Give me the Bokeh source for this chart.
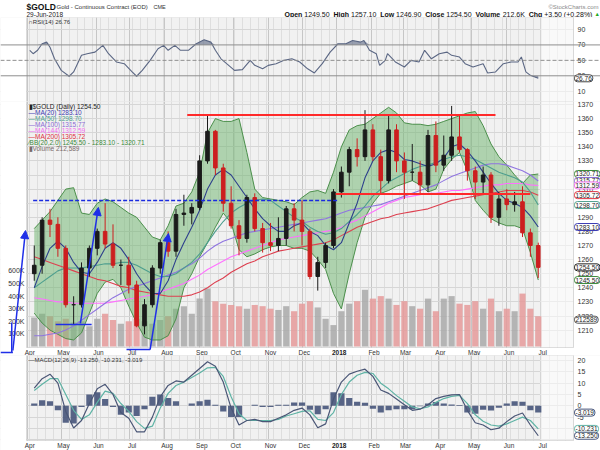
import numpy as np
import pandas as pd
from bokeh.plotting import figure
from bokeh.layouts import column
from bokeh.models import (Range1d, FixedTicker, Label, Arrow, NormalHead,
                          BoxAnnotation, ColumnDataSource, Span)
from bokeh.core.properties import value
from bokeh.embed import file_html
from bokeh.resources import INLINE

# ---------------- data (weekly) ----------------
week_end = pd.date_range("2017-04-07", "2018-06-29", freq="W-FRI")

open_ = [1250,1256,1288,1285,1268,1228,1228,1254,1268,1280,1271,1256,1256,1242,1213,1228,1254,1272,1266,1292,
         1293,1297,1330,1351,1325,1300,1284,1275,1304,1282,1272,1270,1275,1296,1288,1280,1248,1258,1270,1308,
         1322,1338,1333,1352,1333,1316,1352,1330,1322,1322,1313,1348,1327,1334,1347,1338,1323,1315,1320,1290,
         1303,1299,1301,1279,1270]
high = [1270,1290,1296,1290,1270,1234,1258,1270,1282,1300,1285,1260,1262,1245,1232,1256,1274,1280,1296,1306,
        1300,1334,1362,1352,1328,1312,1288,1306,1307,1286,1286,1290,1298,1300,1302,1282,1262,1272,1310,1326,
        1340,1346,1366,1356,1338,1362,1356,1336,1342,1330,1352,1358,1348,1369,1362,1339,1326,1326,1322,1308,
        1310,1308,1312,1282,1272]
low = [1245,1250,1276,1262,1226,1214,1226,1248,1263,1268,1254,1242,1236,1212,1207,1226,1250,1262,1262,1284,
       1285,1295,1328,1320,1294,1282,1263,1272,1280,1265,1266,1266,1270,1280,1270,1246,1238,1254,1268,1304,
       1312,1326,1330,1330,1306,1314,1322,1303,1316,1306,1308,1322,1323,1330,1336,1316,1303,1306,1286,1284,
       1295,1294,1276,1262,1247]
close = [1256,1288,1285,1268,1228,1228,1254,1268,1280,1271,1256,1256,1242,1213,1228,1254,1272,1266,1292,1293,
         1297,1330,1351,1325,1300,1284,1275,1304,1282,1272,1270,1275,1296,1288,1280,1248,1258,1270,1308,1322,
         1338,1333,1352,1333,1316,1352,1330,1322,1322,1313,1348,1327,1334,1347,1338,1323,1315,1320,1290,1303,
         1299,1301,1279,1270,1254.5]
volume_k = [230,260,240,200,220,190,200,160,220,260,210,180,200,220,200,180,210,240,300,320,
            260,380,460,360,340,330,320,300,330,320,300,290,320,280,340,360,310,220,170,280,
            340,360,450,380,400,380,330,360,320,300,380,280,380,400,340,330,360,300,380,280,
            300,280,420,300,240]

ma20 = [1240,1255,1268,1273,1268,1258,1251,1250,1258,1268,1272,1268,1260,1250,1242,1236,1236,1245,1260,1272,
        1283,1295,1310,1320,1324,1320,1312,1304,1296,1289,1284,1280,1280,1284,1286,1280,1277,1270,1267,1272,
        1286,1300,1318,1330,1336,1338,1336,1331,1330,1328,1326,1328,1332,1340,1342,1337,1330,1322,1314,1307,
        1302,1300,1297,1291,1283.1]
ma50 = [1240,1244,1248,1252,1254,1254,1254,1255,1256,1257,1257,1258,1258,1256,1253,1250,1248,1248,1250,1254,
        1258,1264,1272,1280,1287,1293,1297,1300,1302,1303,1302,1298,1294,1290,1287,1283,1280,1278,1279,1282,
        1287,1292,1298,1305,1310,1315,1318,1321,1324,1326,1327,1329,1331,1333,1334,1333,1331,1328,1325,1322,
        1320,1318,1315,1308,1298.7]
ma100 = [1206,1206,1207,1208,1210,1213,1217,1221,1225,1229,1233,1236,1239,1241,1243,1245,1247,1249,1251,1254,
         1257,1261,1266,1270,1273,1275,1277,1279,1280,1281,1282,1283,1284,1285,1286,1287,1288,1289,1291,1293,
         1295,1296,1297,1298,1299,1301,1303,1305,1307,1309,1311,1313,1316,1319,1321,1323,1325,1327,1328,1328,
         1327,1325,1323,1320,1315.77]
ma144 = [1233,1232,1231,1230,1230,1229,1229,1229,1229,1229,1230,1231,1232,1233,1234,1235,1237,1239,1241,1243,
         1246,1249,1253,1256,1259,1262,1264,1266,1268,1270,1272,1274,1275,1276,1277,1278,1279,1280,1281,1283,
         1286,1288,1291,1294,1297,1300,1302,1304,1305,1306,1307,1307,1308,1309,1309,1310,1311,1312,1313,1313,
         1314,1314,1314,1313,1312.59]
ma200 = [1262,1260,1258,1256,1254,1252,1250,1248,1246,1245,1243,1241,1240,1238,1237,1236,1235,1234,1234,1234,
         1235,1237,1240,1244,1247,1251,1254,1257,1259,1262,1264,1266,1267,1268,1269,1270,1271,1272,1274,1277,
         1280,1283,1285,1287,1289,1290,1292,1293,1294,1295,1296,1298,1300,1302,1303,1304,1305,1306,1307,1308,
         1309,1309,1309,1308,1305.72]
bb_upper = [1282,1288,1294,1302,1310,1311,1293,1292,1300,1303,1301,1297,1293,1290,1283,1276,1274,1284,1298,1300,
            1308,1322,1350,1360,1358,1358,1360,1336,1310,1304,1303,1302,1301,1299,1304,1308,1309,1307,1322,1340,
            1352,1355,1356,1360,1364,1368,1364,1357,1356,1356,1355,1356,1358,1360,1362,1364,1365,1355,1342,1333,
            1327,1320,1314,1320,1320.71]
bb_lower = [1222,1215,1210,1207,1204,1203,1208,1222,1236,1244,1246,1240,1227,1215,1205,1203,1203,1206,1218,1240,
            1250,1262,1272,1283,1293,1286,1267,1262,1264,1267,1269,1270,1270,1268,1268,1266,1260,1253,1236,1225,
            1250,1272,1290,1300,1307,1309,1312,1314,1316,1313,1308,1310,1324,1331,1336,1323,1302,1295,1289,1286,
            1284,1284,1282,1265,1245.5]
macd_line = [7.8,12,14,10,-2.5,-9.8,-6.5,1,7.5,9.5,5,-3,-5.5,-11.5,-11.5,-5,4,9,11,10.5,
             13.5,16.5,19.5,17.5,10.5,-1,-8.5,-6.5,-6,-7,-7,-5.5,-4,-2,-1,-4,-9.7,-8,3,10.5,
             14,15.3,16.2,13,7,5.5,3,0.5,-2,-1.5,0.5,3.2,4.2,4.8,5,-2,-7.5,-8.5,-10.6,-9.9,
             -7,-4.5,-3.2,-8.5,-13.25]
macd_signal = [6.8,9.5,12,12,5,-2,-6,-4,1.5,6.5,5.5,1,-2.5,-7,-10,-9,-1,5.5,9,10.5,
               12.5,14.5,16.8,17,13,4,-3.5,-6.5,-6.5,-6.5,-6.5,-6,-4.5,-3.5,-2.5,-2.2,-6,-6.5,-3,5,
               10.5,13.5,14.8,14.3,10,7.5,4.5,2,-0.5,-1.3,-0.5,1.5,3.2,4.2,4.6,1,-4,-6.8,-8.5,-9,
               -8,-6.5,-5,-6.5,-10.231]

rsi_dates = ["2017-04-03","2017-04-06","2017-04-10","2017-04-14","2017-04-18","2017-04-21","2017-04-25",
             "2017-05-01","2017-05-08","2017-05-12","2017-05-19","2017-05-24","2017-05-31","2017-06-07",
             "2017-06-12","2017-06-19","2017-06-26","2017-07-03","2017-07-07","2017-07-12","2017-07-19",
             "2017-07-26","2017-07-31","2017-08-04","2017-08-10","2017-08-15","2017-08-22","2017-08-29",
             "2017-09-05","2017-09-11","2017-09-15","2017-09-20","2017-09-25","2017-10-02","2017-10-09",
             "2017-10-16","2017-10-20","2017-10-27","2017-11-01","2017-11-08","2017-11-15","2017-11-22",
             "2017-11-29","2017-12-06","2017-12-12","2017-12-19","2017-12-26","2018-01-02","2018-01-09",
             "2018-01-15","2018-01-22","2018-01-25","2018-01-30","2018-02-05","2018-02-08","2018-02-13",
             "2018-02-15","2018-02-22","2018-03-02","2018-03-08","2018-03-15","2018-03-20","2018-03-26",
             "2018-04-02","2018-04-09","2018-04-13","2018-04-20","2018-04-25","2018-05-02","2018-05-11",
             "2018-05-15","2018-05-22","2018-05-29","2018-06-05","2018-06-11","2018-06-14","2018-06-18",
             "2018-06-22","2018-06-29"]
rsi_vals = [63,58.6,63,71.5,73.6,67,52,37,29.4,35,56.5,58.6,60.7,69.4,58.6,47.9,45.7,35,29.4,37,50,
            65,69.4,63,69.4,63,63,71.5,76.7,73.6,63,52,45.7,37,38,50,43.5,39,43.5,45.7,50,52,47.9,39,
            33.7,45.7,60.7,71.5,71.5,75.8,73.6,75.8,63,58.6,43.5,50,58.6,47.9,41.4,50,47.9,63,52,58.6,
            60.7,56.5,54.3,45.7,41.4,45.7,33.7,35,45.7,47.9,47.9,54.3,35,30.6,26.76]

month_starts = pd.date_range("2017-04-01", "2018-07-01", freq="MS")
month_labels = ["Apr","May","Jun","Jul","Aug","Sep","Oct","Nov","Dec","2018","Feb","Mar","Apr","May","Jun","Jul"]
price_ticks = [1210,1220,1230,1240,1250,1260,1270,1280,1290,1300,1310,1320,1330,1340,1350,1360,1370]
vol_ticks = [100,200,300,400,500,600]
rsi_ticks = [10,30,50,70,90]
macd_ticks = [-5,0,5,10,15,20]

# hand-drawn annotations on the reference (date, price)
resistance = (["2017-08-21","2018-05-22"], 1362.5)
support = (["2017-12-31","2018-06-22"], 1306.5)
breakout = (["2017-04-06","2018-01-03"], 1302)
arrows = [(("2017-03-19",1195.5),("2017-03-30 05:00",1280.6)),
          (("2017-05-18",1214.7),("2017-06-03",1297)),
          (("2017-07-19",1196.2),("2017-08-04 07:00",1278.5))]
plain_lines = [(("2017-04-26",1214),("2017-05-28",1214)),
               (("2017-06-28",1196.2),("2017-07-19",1196.2)),
               (("2017-03-18",1215.4),("2017-03-18",1194.1)),
               (("2017-03-08",1194.1),("2017-03-19",1194.1))]

# ---------------- layout helpers (pixel geometry of the panels) ----------------
DAY = 86400000.0
FONT = "Liberation Sans"
PXD = 1.125                      # pixels per calendar day
BASE = pd.Timestamp("2017-04-01")


def ms(d):
    return pd.Timestamp(d).value / 1e6


def px_ms(px):
    return ms(BASE) + (px - 27) / PXD * DAY


xr = Range1d(px_ms(0), px_ms(600))
month_ms = [ms(d) for d in month_starts]
week_grid = [ms(d) for d in pd.date_range("2017-04-03", "2018-07-30", freq="W-MON")]
LEFT, RIGHT = px_ms(26), px_ms(573)


def make_fig(h, yr, panel_bottom=None):
    p = figure(width=600, height=h, x_range=xr, y_range=yr, x_axis_location=None, y_axis_location=None,
               min_border=0, output_backend="svg", toolbar_location=None)
    p.background_fill_color = "#f1f1f1"
    p.border_fill_color = "white"
    p.outline_line_color = None
    p.xgrid.ticker = FixedTicker(ticks=month_ms, minor_ticks=week_grid)
    p.xgrid.grid_line_color = "#c6c6c6"
    p.xgrid.minor_grid_line_color = "#dedede"
    p.ygrid.grid_line_color = "#d6d6d6"
    # white margins (axis areas)
    p.add_layout(BoxAnnotation(right=LEFT, fill_color="white", fill_alpha=1, line_color=None, level="underlay"))
    p.add_layout(BoxAnnotation(left=RIGHT, fill_color="white", fill_alpha=1, line_color=None, level="underlay"))
    if panel_bottom is not None:
        p.add_layout(BoxAnnotation(top=panel_bottom, fill_color="white", fill_alpha=1, line_color=None,
                                   level="underlay"))
    # future area lighter
    p.add_layout(BoxAnnotation(left=ms("2018-07-01"), right=RIGHT, bottom=panel_bottom, fill_color="white",
                               fill_alpha=0.55, line_color=None, level="underlay"))
    # panel frame
    p.add_layout(BoxAnnotation(left=LEFT, right=RIGHT, bottom=panel_bottom, fill_alpha=0,
                               line_color="#9a9a9a", line_width=1))
    return p


def ytext(p, ticks, labels, x=577, align="left", rname="default", size="7px"):
    p.text(x=[px_ms(x)] * len(ticks), y=ticks, text=labels, text_font=value(FONT), text_font_size=size,
           text_color="#333333", text_align=align, text_baseline="middle", y_range_name=rname)


def month_text(p, y):
    xs = [m + 2 * DAY for m in month_ms]
    normal = [i for i, l in enumerate(month_labels) if l != "2018"]
    bold = [i for i, l in enumerate(month_labels) if l == "2018"]
    p.text(x=[xs[i] for i in normal], y=[y] * len(normal), text=[month_labels[i] for i in normal],
           text_font=value(FONT), text_font_size="6.5px", text_color="#333333", text_align="center",
           text_baseline="middle")
    p.text(x=[xs[i] for i in bold], y=[y] * len(bold), text=[month_labels[i] for i in bold],
           text_font=value(FONT), text_font_size="6.5px", text_color="#222222", text_align="center",
           text_baseline="middle", text_font_style="bold")


def vbox(p, y, text, color, rname="default"):
    p.add_layout(Label(x=574, y=y, x_units="screen", y_units="data", y_range_name=rname, text=text,
                       text_font=FONT, text_font_size="6.5px", text_color="#222222",
                       text_baseline="middle", text_align="left", border_line_color=color,
                       border_line_width=1, background_fill_color="white", border_radius=3, padding=1))


def txt(p, x, y, text, size="6.5px", color="#222222", bold=False, align="left"):
    p.add_layout(Label(x=x, y=y, x_units="screen", y_units="screen", text=text, text_font=FONT,
                       text_font_size=size, text_color=color, text_baseline="middle", text_align=align,
                       text_font_style="bold" if bold else "normal"))


# ---------------- header ----------------
ph = figure(width=600, height=17, x_range=Range1d(0, 600), y_range=Range1d(0, 17), x_axis_location=None,
            y_axis_location=None, min_border=0, output_backend="svg", toolbar_location=None)
ph.outline_line_color = None
ph.grid.visible = False
ph.background_fill_color = "white"
txt(ph, 26, 11, "$GOLD", size="8.5px", color="#111111", bold=True)
txt(ph, 56, 11, "Gold - Continuous Contract (EOD)", size="6px", color="#333333")
txt(ph, 153, 11, "CME", size="5.5px", color="#333333")
txt(ph, 26, 3.5, "29-Jun-2018", size="6.5px", color="#222222")
txt(ph, 598, 11, "\u00a9StockCharts.com", size="6px", color="#8a8a8a", align="right")
hdr = [("Open", True, 284), ("1249.50", False, 303.8), ("High", True, 333), ("1257.10", False, 350.5),
       ("Low", True, 379.7), ("1246.90", False, 395.6), ("Close", True, 424.8), ("1254.50", False, 445.8),
       ("Volume", True, 475), ("212.6K", False, 502.2), ("Chg", True, 528.2), ("+3.50 (+0.28%)", False, 543.7)]
for t, b, x in hdr:
    txt(ph, x, 3.5, t, size="7px", color="#111111", bold=b)
txt(ph, 594, 3.5, "\u25b2", size="5.5px", color="#22aa22")

# ---------------- RSI panel (canvas y 17..101) ----------------
p1 = make_fig(84, Range1d(-3.3, 105.5))
p1.ygrid.ticker = FixedTicker(ticks=[10, 90])
for lv, dash in [(70, "solid"), (30, "solid"), (50, "4 2")]:
    p1.add_layout(Span(location=lv, dimension="width", line_color="#8f8f8f", line_width=1, line_dash=dash))
rsi_t = pd.to_datetime(rsi_dates)
rsi_a = np.array(rsi_vals)
p1.varea(x=rsi_t, y1=70, y2=np.maximum(rsi_a, 70), fill_color="#5b6784", fill_alpha=0.6)
p1.varea(x=rsi_t, y1=np.minimum(rsi_a, 30), y2=30, fill_color="#5b6784", fill_alpha=0.6)
p1.line(rsi_t, rsi_a, line_color="#5b6784", line_width=1.1)
ytext(p1, rsi_ticks, [str(t) for t in rsi_ticks])
vbox(p1, rsi_vals[-1], "26.76", "#444444")
txt(p1, 28, 80, "\u2229RSI(14) 26.76", size="6px", color="#333333")

# ---------------- main price panel (canvas y 101..355) ----------------
def py(canvas_y):
    return 1370 - (canvas_y - 104) / 1.41


p2 = make_fig(254, Range1d(py(355), py(101)), panel_bottom=py(347))
p2.ygrid.ticker = FixedTicker(ticks=price_ticks)
p2.extra_y_ranges = {"vol": Range1d(-71.4, 1944.4)}

o = np.array(open_, float); c = np.array(close, float)
up = c >= o
src = ColumnDataSource(dict(t=week_end, o=o, h=high, l=low, c=c,
                            top=np.maximum(o, c), bot=np.minimum(o, c),
                            col=["#1b1b1b" if u else "#cc1f1f" for u in up],
                            vcol=["#a9a9a9" if u else "#e59a9a" for u in up],
                            v=volume_k))
p2.vbar(x="t", width=5.5 * DAY, top="v", bottom=0, y_range_name="vol", fill_color="vcol",
        line_color=None, fill_alpha=0.85, source=src)
p2.varea(x=week_end, y1=bb_lower, y2=bb_upper, fill_color="#77b877", fill_alpha=0.55)
p2.line(week_end, bb_upper, line_color="#4b8f4b", line_width=1)
p2.line(week_end, bb_lower, line_color="#4b8f4b", line_width=1)
ma_styles = [(ma200, "#dd4050"), (ma144, "#ff70ff"), (ma100, "#8f74e0"), (ma50, "#4d9e8e"), (ma20, "#2d3f8c")]
for ser, col in ma_styles:
    p2.line(week_end, ser, line_color=col, line_width=1.1)
p2.segment(x0="t", y0="l", x1="t", y1="h", line_color="col", line_width=1, source=src)
p2.vbar(x="t", width=3.2 * DAY, top="top", bottom="bot", fill_color="col", line_color="col", source=src)

for (d, y), col, dash, lw in [(resistance, "#ff2a2a", "solid", 2), (support, "#ff2a2a", "solid", 2),
                              (breakout, "#1a2ae0", "4 2", 1.5)]:
    p2.line([ms(d[0]), ms(d[1])], [y, y], line_color=col, line_width=lw, line_dash=dash)
for (s, e) in arrows:
    p2.add_layout(Arrow(x_start=ms(s[0]), y_start=s[1], x_end=ms(e[0]), y_end=e[1],
                        line_color="#1f2fe8", line_width=1.5,
                        end=NormalHead(size=8, fill_color="#1f2fe8", line_color="#1f2fe8")))
for (s, e) in plain_lines:
    p2.add_layout(Arrow(x_start=ms(s[0]), y_start=s[1], x_end=ms(e[0]), y_end=e[1],
                        line_color="#1f2fe8", line_width=1.5, end=None))

ytext(p2, price_ticks, [str(t) for t in price_ticks])
ytext(p2, vol_ticks, ["%dK" % v for v in vol_ticks], x=24, align="right", rname="vol")
month_text(p2, py(351.5))

leg = [("\u25ae$GOLD (Daily) 1254.50", "#222222"), ("\u2014MA(20) 1283.10", "#3b3bb3"),
       ("\u2014MA(50) 1298.70", "#4fa08f"), ("\u2014MA(100) 1315.77", "#8c6bd6"),
       ("\u2014MA(144) 1312.59", "#f06cf0"), ("\u2014MA(200) 1305.72", "#e0303f"),
       ("\u2215BB(20,2.0) 1245.50 - 1283.10 - 1320.71", "#3a8a3a"), ("\u25aeVolume 212,589", "#7a6a6a")]
for i, (t, col) in enumerate(leg):
    txt(p2, 28, 249.3 - 6 * i, t, size="6.5px", color=col)

vbox(p2, 1320.71, "1320.71", "#3a8a3a")
vbox(p2, 1315.77, "1315.77", "#8c6bd6")
vbox(p2, 1312.59, "1312.59", "#f06cf0")
vbox(p2, 1305.72, "1305.72", "#e0303f")
vbox(p2, 1298.70, "1298.70", "#4fa08f")
vbox(p2, 1283.10, "1283.10", "#3b3bb3")
vbox(p2, 1254.50, "1254.50", "#222222")
vbox(p2, 1245.50, "1245.50", "#3a8a3a")
vbox(p2, 212.589, "212589", "#555555", rname="vol")

# ---------------- MACD panel (canvas y 355..450) ----------------
p3 = make_fig(95, Range1d(-19.78, 22.26), panel_bottom=-15.35)
p3.ygrid.ticker = FixedTicker(ticks=[-15, -10, -5, 0, 5, 10, 15, 20])
hist = np.array(macd_line) - np.array(macd_signal)
p3.vbar(x=week_end, width=5.5 * DAY, top=hist, bottom=0, fill_color="#46547a", line_color=None, fill_alpha=0.9)
p3.line(week_end, macd_signal, line_color="#5fb3a5", line_width=1.2)
p3.line(week_end, macd_line, line_color="#4a5676", line_width=1.2)
ytext(p3, macd_ticks, [str(t) for t in macd_ticks])
month_text(p3, -17.6)
vbox(p3, -3.019, "-3.019", "#46547a")
vbox(p3, -10.231, "-10.231", "#5fb3a5")
vbox(p3, -13.250, "-13.250", "#46547a")
txt(p3, 28, 91, "\u2014MACD(12,26,9) -13.250, -10.231, -3.019", size="6px", color="#333333")

layout = column(ph, p1, p2, p3, spacing=0)
open("out.html", "w").write(file_html(layout, INLINE))
